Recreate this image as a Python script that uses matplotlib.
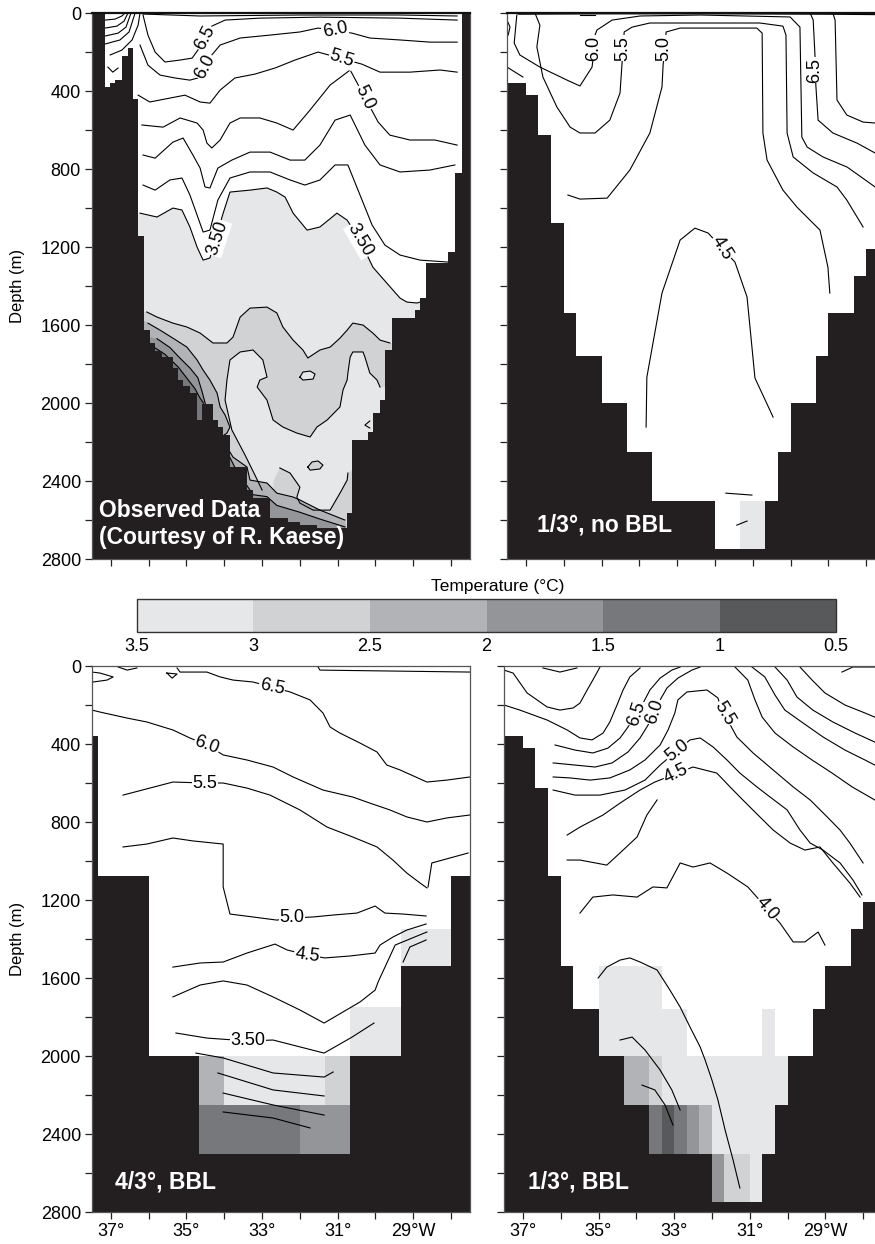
import numpy as np
import matplotlib.pyplot as plt
from matplotlib.colors import ListedColormap, BoundaryNorm
import matplotlib.colorbar as mcolorbar

plt.rcParams['font.family'] = ['Liberation Sans', 'DejaVu Sans']

# temperature bands (deg C) and their greys
levels = [0.5, 1.0, 1.5, 2.0, 2.5, 3.0, 3.5]
band_colors = ['#58595b', '#77787b', '#939598', '#b1b3b6', '#d1d2d4', '#e6e7e8']
LAND = '#231f20'
nan = np.nan

# ---------------- bathymetry (deg W edges, depth of sea floor in m) ----------------
obs_edges = [37.5, 37.16, 37.02, 36.89, 36.71, 36.55, 36.42, 36.28, 36.12, 35.97, 35.83,
             35.65, 35.36, 35.22, 35.09, 34.91, 34.72, 34.59, 34.30, 34.17, 34.03, 33.85,
             33.40, 33.24, 32.79, 32.31, 32.00, 31.55, 30.75, 30.62, 30.20, 30.07, 29.88,
             29.75, 29.56, 28.95, 28.82, 28.66, 28.08, 27.90, 27.71, 27.5]
obs_bottom = [0, 380, 360, 345, 220, 180, 440, 1145, 1625, 1690, 1732, 1762, 1821, 1882,
              1913, 1950, 2087, 2005, 2087, 2121, 2164, 2326, 2446, 2487, 2590, 2609, 2625,
              2641, 2564, 2190, 2147, 2050, 1985, 1728, 1564, 1523, 1462, 1283, 1224, 822, 0]

third_edges = [37.5, 37.0, 36.67, 36.33, 36.0, 35.67, 35.0, 34.33, 33.67, 32.0, 30.67,
               30.33, 30.0, 29.33, 29.0, 28.33, 28.0, 27.5]
third_bottom = [360, 420, 625, 1075, 1540, 1760, 2000, 2250, 2500, 2750, 2500, 2250,
                2000, 1760, 1540, 1350, 1210]

four_edges = [37.5, 37.33, 36.0, 34.67, 30.67, 29.33, 28.0, 27.5]
four_bottom = [360, 1075, 2000, 2500, 2000, 1540, 1075]

# ---------------- observed section (Kaese) ----------------
obs_surf = [(36.15, 5), (34.64, 15), (32.0, 10), (29.35, 10), (27.84, 15)]
obs_arc1 = [(37.16, 36), (36.89, 31), (36.71, 15), (36.63, 0)]
obs_arc2 = [(37.16, 77), (36.84, 67), (36.65, 41), (36.55, 0)]
obs_arc3 = [(37.16, 118), (36.81, 103), (36.60, 72), (36.47, 0)]
obs_arc4 = [(37.16, 159), (36.76, 138), (36.52, 97), (36.36, 0)]
obs_arc5 = [(37.02, 215), (36.71, 190), (36.44, 138), (36.28, 62), (36.23, 0)]
obs_vmark = [(37.08, 277), (36.95, 303), (36.81, 282)]
obs_t65 = [(36.15, 10), (36.02, 113), (35.83, 200), (35.57, 251), (35.17, 241), (34.85, 231),
           (34.70, 190), (34.33, 67), (33.98, 36), (33.06, 26), (31.47, 21), (29.35, 26),
           (27.84, 36)]
obs_t60 = [(36.23, 164), (36.02, 267), (35.70, 318), (35.30, 333), (34.91, 344), (34.70, 333),
           (34.33, 215), (34.11, 164), (33.58, 128), (32.79, 113), (32.00, 97), (31.52, 77),
           (30.62, 103), (30.15, 128), (29.35, 138), (28.56, 149), (27.84, 149)]
obs_t55 = [(36.28, 421), (35.97, 456), (35.44, 436), (35.04, 421), (34.64, 456), (34.38, 462),
           (34.11, 395), (33.72, 333), (33.19, 313), (32.66, 282), (32.13, 241), (31.52, 200),
           (30.36, 262), (29.88, 303), (29.09, 303), (28.29, 292), (27.84, 303)]
obs_t50 = [(36.18, 574), (35.62, 585), (35.17, 538), (34.72, 564), (34.56, 600), (34.46, 667),
           (34.33, 692), (34.11, 651), (33.85, 564), (33.58, 538), (33.06, 538), (32.61, 564),
           (32.18, 600), (31.73, 497), (31.20, 369), (30.67, 292), (29.93, 559), (29.62, 626),
           (29.09, 651), (28.43, 651), (27.84, 677)]
obs_t45 = [(36.15, 728), (35.83, 744), (35.36, 662), (35.09, 641), (34.83, 728), (34.64, 795),
           (34.51, 892), (34.38, 897), (34.17, 795), (33.80, 754), (33.32, 713), (32.79, 713),
           (32.26, 754), (31.87, 754), (31.47, 677), (31.07, 549), (30.67, 523), (30.28, 677),
           (29.88, 779), (29.35, 815), (28.56, 805), (27.90, 779)]
obs_t40 = [(36.15, 882), (35.83, 908), (35.44, 856), (35.12, 846), (34.91, 933), (34.72, 1036),
           (34.56, 1123), (34.38, 1113), (34.17, 959), (33.85, 846), (33.32, 815), (32.79, 815),
           (32.26, 856), (31.87, 882), (31.47, 856), (31.07, 779), (30.73, 779), (30.41, 933),
           (30.09, 1087), (29.75, 1190), (29.35, 1241), (28.82, 1267), (28.08, 1277)]
obs_t35 = [(36.23, 1026), (35.78, 1046), (35.36, 1000), (35.12, 1010), (34.91, 1097),
           (34.72, 1200), (34.56, 1267), (34.38, 1256), (34.03, 1026), (33.85, 918),
           (33.32, 908), (32.87, 897), (32.61, 918), (32.39, 944), (32.18, 1026), (31.81, 1113),
           (31.47, 1097), (31.02, 1026), (30.75, 1062), (30.41, 1164), (30.07, 1303),
           (29.70, 1385), (29.35, 1462), (29.17, 1482), (28.90, 1487), (28.66, 1472)]
obs_t30_upper = [(36.05, 1533), (35.78, 1559), (35.36, 1590), (34.99, 1610), (34.64, 1641),
                 (34.30, 1692), (33.93, 1692), (33.77, 1662), (33.58, 1559), (33.32, 1513),
                 (32.87, 1508), (32.61, 1538), (32.45, 1610), (32.18, 1677), (31.92, 1728),
                 (31.79, 1769), (31.47, 1728), (31.20, 1713), (30.94, 1667), (30.75, 1626),
                 (30.60, 1590), (30.33, 1600), (30.07, 1641), (29.88, 1677), (29.62, 1692)]
obs_t30_lower = [(29.88, 1918), (29.96, 1882), (30.15, 1846), (30.28, 1764), (30.33, 1738),
                 (30.60, 1738), (30.67, 1764), (30.73, 1846), (30.75, 1882), (30.86, 1933),
                 (30.94, 2020), (31.28, 2087), (31.55, 2123), (31.73, 2174), (32.08, 2154),
                 (32.45, 2123), (32.71, 2087), (32.87, 1985), (33.13, 1918), (33.06, 1882),
                 (32.87, 1867), (32.98, 1779), (33.24, 1728), (33.58, 1738), (33.85, 1779),
                 (33.93, 1882), (33.98, 1985), (33.80, 2138), (33.45, 2267), (33.19, 2369),
                 (33.00, 2446)]
obs_t30_bottom = [(32.53, 2333), (32.26, 2359), (32.00, 2431), (32.08, 2482), (32.00, 2513),
                  (31.65, 2549), (31.20, 2549), (30.94, 2462), (30.75, 2395), (30.73, 2359)]
obs_t25 = [(36.02, 1590), (35.70, 1626), (35.36, 1667), (34.99, 1713), (34.72, 1779),
           (34.56, 1831), (34.38, 1882), (34.19, 1949), (34.11, 2020), (33.98, 2061),
           (33.85, 2123), (33.93, 2154), (34.19, 2190), (33.93, 2226), (33.77, 2277),
           (33.40, 2328), (33.32, 2395), (32.87, 2410), (32.61, 2462), (32.18, 2482),
           (32.00, 2497), (31.47, 2549), (30.81, 2600)]
obs_t20 = [(35.78, 1670), (35.44, 1715), (35.17, 1770), (34.91, 1820), (34.70, 1870),
           (34.59, 1940), (34.48, 2020), (34.33, 2100), (34.11, 2180), (33.72, 2330),
           (33.24, 2470), (32.87, 2480), (32.61, 2525), (32.26, 2545), (32.00, 2560),
           (31.47, 2595), (30.81, 2635)]
obs_t15 = [(35.97, 1700), (35.57, 1750), (35.22, 1815), (34.96, 1880), (34.78, 1925),
           (34.64, 1975), (34.55, 2000)]
obs_blob1 = [(32.00, 1867), (31.92, 1841), (31.73, 1836), (31.60, 1851), (31.65, 1877),
             (31.92, 1882), (32.00, 1867)]
obs_blob2 = [(31.79, 2328), (31.68, 2302), (31.52, 2297), (31.39, 2318), (31.47, 2338),
             (31.73, 2344), (31.79, 2328)]
obs_mark = [(30.15, 2092), (30.28, 2113), (30.15, 2128)]
obs_labels = [('6.5', 34.51, 128, 62), ('6.0', 34.51, 275, 62), ('6.0', 31.07, 88, 12),
              ('5.5', 30.89, 232, -18), ('5.0', 30.28, 433, -65), ('3.50', 34.17, 1154, 72),
              ('3.50', 30.41, 1164, -60)]

# ---------------- 1/3 deg, no BBL ----------------
tr_surf = [(37.2, 6), (35.0, 4), (32.0, 4), (29.0, 6), (27.76, 8)]
tr_t70 = [(28.88, 0), (28.82, 36), (28.77, 446), (28.51, 523), (28.08, 559), (27.76, 564)]
tr_t65 = [(29.48, 0), (29.40, 36), (29.35, 226), (29.33, 369), (29.27, 549), (28.88, 615),
          (28.24, 667), (27.76, 718)]
tr_t60 = [(37.24, 10), (37.31, 154), (37.16, 215), (36.63, 277), (35.91, 344), (35.57, 374),
          (35.25, 277), (35.22, 231), (35.20, 128), (35.12, 87), (34.72, 36), (33.98, 15),
          (32.39, 10), (30.01, 20), (29.75, 72), (29.70, 636), (29.56, 687), (29.14, 738),
          (28.50, 790), (27.76, 892)]
tr_t55 = [(36.76, 0), (36.63, 62), (36.71, 174), (36.55, 328), (36.18, 482), (35.83, 585),
          (35.57, 615), (35.17, 615), (34.78, 549), (34.51, 410), (34.46, 267), (34.40, 97),
          (34.19, 72), (33.72, 51), (30.81, 51), (30.20, 67), (30.12, 113), (30.09, 615),
          (29.93, 738), (29.40, 820), (28.77, 892), (28.51, 959), (28.08, 1097)]
tr_t50 = [(35.89, 933), (35.57, 954), (34.85, 949), (34.25, 805), (33.72, 615), (33.40, 379),
          (33.37, 267), (33.29, 97), (32.92, 77), (30.89, 77), (30.75, 103), (30.73, 615),
          (30.62, 754), (30.20, 908), (29.83, 995), (29.22, 1113), (29.01, 1303), (28.96, 1436)]
tr_t45 = [(33.82, 2123), (33.80, 1867), (33.40, 1436), (32.92, 1164), (32.53, 1103),
          (32.18, 1128), (31.47, 1277), (31.15, 1456), (30.94, 1872), (30.46, 2072)]
tr_bit1 = [(31.71, 2462), (31.02, 2472)]
tr_bit2 = [(31.42, 2626), (31.15, 2605)]
tr_bit3 = [(37.5, 36), (37.42, 72), (37.47, 113)]
tr_bit4 = [(37.5, 277), (37.08, 328)]
tr_bit5 = [(35.57, 10), (35.17, 10)]
tr_labels = [('6.0', 35.22, 180, 90), ('5.5', 34.43, 180, 90), ('5.0', 33.35, 180, 90),
             ('6.5', 29.35, 292, 90), ('4.5', 31.81, 1205, -58)]

# model cells on the 1/3 deg grid (mean temperature of the cell, nan = above 3.5)
third_cell_lon = [35.0, 34.67, 34.33, 34.0, 33.67, 33.33, 33.0, 32.67, 32.33, 32.0, 31.67,
                  31.33, 31.0, 30.67, 30.33, 30.0]
third_cell_depth = [1540, 1760, 2000, 2250, 2500, 2750]
tr_cells = [
    [nan] * 15,
    [nan] * 15,
    [nan] * 15,
    [nan] * 15,
    [nan] * 11 + [3.25, 3.25, nan, nan],
]

# ---------------- 4/3 deg, BBL ----------------
bl_s1 = [(37.5, 31), (37.29, 36), (36.94, 56), (37.10, 72), (37.47, 82)]
bl_s2 = [(36.81, 5), (36.57, 21), (36.31, 10)]
bl_s3 = [(35.52, 36), (35.38, 62), (35.25, 41), (35.52, 36)]
bl_s4 = [(31.52, 5), (31.47, 21), (27.5, 31)]
bl_t65 = [(35.25, 10), (35.17, 31), (34.46, 31), (34.11, 56), (33.77, 72), (33.24, 82),
          (32.74, 108), (32.26, 133), (31.73, 174), (31.39, 241), (31.20, 313), (30.94, 344),
          (30.41, 395), (29.96, 441), (29.70, 508), (29.35, 533), (28.64, 595), (28.11, 585),
          (27.50, 569)]
bl_t60 = [(37.50, 226), (37.29, 236), (36.57, 267), (36.05, 287), (35.36, 328), (34.91, 369),
          (34.46, 405), (34.03, 456), (33.40, 482), (32.71, 518), (32.18, 569), (31.39, 636),
          (30.60, 672), (30.15, 703), (29.62, 738), (29.17, 774), (28.64, 800), (28.11, 779),
          (27.50, 764)]
bl_t55 = [(36.68, 662), (35.97, 626), (35.36, 595), (34.51, 600), (34.03, 600), (33.40, 626),
          (32.79, 662), (32.00, 738), (31.28, 826), (30.60, 877), (29.96, 928), (29.54, 995),
          (29.17, 1062), (28.82, 1113), (28.64, 1138)]
bl_t50 = [(36.68, 928), (36.05, 913), (35.36, 882), (34.83, 897), (34.03, 913), (34.03, 1133),
          (33.85, 1272), (33.24, 1287), (32.61, 1303), (32.21, 1292), (31.65, 1287),
          (31.12, 1277), (30.49, 1267), (30.01, 1231), (29.75, 1267), (29.27, 1272),
          (28.66, 1282)]
bl_t50b = [(28.61, 1133), (28.51, 1010), (27.55, 959)]
bl_t45 = [(35.36, 1544), (34.64, 1523), (34.03, 1518), (33.40, 1472), (32.66, 1426),
          (32.34, 1456), (31.81, 1482), (31.34, 1497), (30.67, 1487), (30.01, 1472),
          (29.88, 1431), (29.54, 1390), (29.17, 1354), (28.66, 1323)]
bl_t40 = [(35.36, 1697), (34.64, 1636), (34.03, 1615), (33.40, 1636), (32.71, 1697),
          (32.00, 1764), (31.36, 1831), (30.41, 1723), (30.01, 1662), (29.93, 1620),
          (29.48, 1431), (28.64, 1364)]
bl_t40b = [(29.27, 1518), (29.09, 1441), (28.66, 1405)]
bl_t35 = [(35.28, 1882), (34.46, 1908), (33.37, 1923), (32.71, 1918), (31.36, 1985),
          (30.62, 1903), (30.04, 1831)]
bl_d1 = [(34.75, 1985), (34.03, 2010), (32.71, 2087), (31.36, 2108), (31.12, 2082)]
bl_d2 = [(34.17, 2087), (32.71, 2174), (31.36, 2205)]
bl_d3 = [(34.03, 2190), (32.71, 2251), (31.36, 2303)]
bl_d4 = [(34.03, 2287), (32.71, 2318), (31.73, 2369)]
bl_labels = [('6.5', 32.74, 108, -12), ('6.0', 34.46, 405, -20), ('5.5', 34.51, 600, 0),
             ('5.0', 32.21, 1292, 0), ('4.5', 31.81, 1482, -8), ('3.50', 33.37, 1923, 0)]
four_cell_lon = [34.67, 34.0, 32.67, 32.0, 31.33, 30.67, 29.33, 28.0]
four_cell_depth = [1350, 1540, 1750, 2000, 2250, 2500]
bl_cells = [
    [nan] * 6 + [3.25],
    [nan] * 7,
    [nan] * 5 + [3.25, nan],
    [2.25, 3.25, 3.25, 3.25, 2.75, nan, nan],
    [1.25, 1.25, 1.25, 1.75, 1.75, nan, nan],
]

# ---------------- 1/3 deg, BBL ----------------
br_s1 = [(36.47, 10), (36.02, 31), (35.57, 10)]
br_s2 = [(28.56, 31), (28.27, 5), (27.69, 5)]
br_t75 = [(37.5, 21), (37.26, 36), (36.89, 138), (36.36, 210), (36.02, 226), (35.67, 215),
          (35.49, 190), (35.30, 123), (35.15, 72), (34.96, 5)]
br_t75r = [(29.67, 5), (29.35, 72), (29.01, 138), (28.48, 200), (27.95, 241), (27.69, 262)]
br_t70 = [(37.5, 200), (37.08, 226), (36.36, 277), (35.83, 328), (35.49, 369), (35.17, 379),
          (34.88, 344), (34.70, 287), (34.51, 200), (34.35, 123), (34.17, 56), (33.90, 10)]
br_t70r = [(30.33, 5), (30.01, 72), (29.75, 159), (29.33, 226), (28.80, 287), (28.21, 344),
           (27.69, 390)]
br_t65 = [(36.15, 405), (35.62, 431), (35.15, 446), (34.75, 421), (34.43, 369), (34.22, 313),
          (33.82, 190), (33.64, 123), (33.37, 62), (33.06, 21), (32.84, 5)]
br_t65r = [(30.94, 5), (30.60, 56), (30.33, 149), (30.07, 226), (29.59, 292), (29.06, 364),
           (28.48, 431), (27.95, 482), (27.69, 508)]
br_t60 = [(36.20, 497), (35.62, 508), (35.09, 518), (34.64, 497), (34.22, 441), (33.90, 369),
          (33.69, 303), (33.37, 174), (33.19, 113), (32.90, 62), (32.53, 21), (32.31, 5)]
br_t60r = [(31.39, 5), (31.05, 72), (30.86, 174), (30.67, 262), (30.33, 344), (29.85, 415),
           (29.35, 482), (28.82, 549), (28.29, 620), (27.69, 687)]
br_t55 = [(36.20, 569), (35.75, 574), (35.22, 585), (34.70, 574), (34.17, 533), (33.77, 482),
          (33.37, 405), (33.16, 328), (32.98, 241), (32.90, 174), (32.66, 133), (32.13, 123),
          (31.84, 164), (31.76, 215), (31.34, 364), (30.91, 446), (30.38, 533), (29.85, 620),
          (29.40, 687), (28.95, 774), (28.61, 841), (28.35, 908), (28.00, 1010)]
br_t50 = [(36.20, 636), (35.62, 662), (34.96, 662), (34.30, 636), (33.77, 585), (33.37, 508),
          (32.58, 379), (32.31, 369), (31.97, 415), (31.60, 482), (31.26, 549), (30.81, 620),
          (30.46, 672), (30.01, 738), (29.67, 841), (29.40, 908), (29.06, 944), (28.61, 1010),
          (28.27, 1097), (28.03, 1174)]
br_t45 = [(35.83, 867), (35.49, 826), (34.88, 764), (34.43, 703), (33.90, 636), (33.51, 595),
          (32.50, 518), (31.87, 549), (31.52, 620), (31.18, 687), (30.73, 774), (30.38, 841),
          (29.93, 908), (29.54, 944), (29.14, 928), (28.80, 1010), (28.35, 1113), (28.08, 1185)]
br_t425 = [(35.83, 995), (35.49, 995), (34.78, 1021), (34.35, 944), (33.98, 877), (33.72, 764),
           (33.45, 687)]
br_t40 = [(35.49, 1267), (35.15, 1185), (34.62, 1174), (33.98, 1185), (33.56, 1133),
          (33.19, 1138), (32.84, 1010), (32.50, 1031), (32.05, 1010), (31.60, 1062),
          (31.05, 1133), (30.20, 1318), (29.85, 1415), (29.54, 1415), (29.19, 1364),
          (29.01, 1431)]
br_t35 = [(35.01, 1600), (34.78, 1544), (34.43, 1508), (34.17, 1497), (33.90, 1518),
          (33.45, 1559), (33.11, 1662), (32.84, 1749), (32.58, 1851), (32.31, 1954),
          (32.18, 2020), (32.00, 2123), (31.84, 2226), (31.65, 2380), (31.44, 2533),
          (31.26, 2677)]
br_d1 = [(34.43, 1918), (34.11, 1903), (33.77, 1969), (33.37, 2072), (33.06, 2174), (32.84, 2277)]
br_d2 = [(33.85, 2149), (33.51, 2174), (33.24, 2251), (33.03, 2354)]
br_labels = [('6.5', 33.98, 245, 72), ('6.0', 33.51, 236, 72), ('5.5', 31.68, 245, -60),
             ('5.0', 32.92, 436, 38), ('4.5', 32.95, 552, 25), ('4.0', 30.54, 1244, -50)]
br_cells = [
    [3.25] * 5 + [nan] * 10,
    [3.25] * 7 + [nan] * 6 + [3.25, nan],
    [nan, nan, 2.25, 2.25, 2.75] + [3.25] * 10,
    [nan] * 4 + [1.25, 0.75, 1.25, 1.75, 2.25] + [3.25] * 6,
    [nan] * 9 + [1.75, 2.75, 2.75, 3.25] + [nan] * 2,
]

lon_ticks = [37, 36, 35, 34, 33, 32, 31, 30, 29, 28]
lon_ticklabels = ['37°', '', '35°', '', '33°', '', '31°', '', '29°W', '']
depth_ticks = list(range(0, 2801, 200))

cmap = ListedColormap(band_colors)
norm = BoundaryNorm(levels, cmap.N)


def band_color(t):
    return cmap(norm(t))


def xy(pts):
    a = np.array(pts, dtype=float)
    return a[:, 0], a[:, 1]


def draw_lines(ax, lines):
    for pts in lines:
        x, y = xy(pts)
        ax.plot(x, y, color='black', lw=0.8, zorder=2, solid_joinstyle='round')


def fill_band(ax, pts, t):
    x, y = xy(pts)
    ax.fill(x, y, color=band_color(t), lw=0, zorder=1)


def draw_cells(ax, lon_edges, dep_edges, cells):
    ax.pcolormesh(lon_edges, dep_edges, np.ma.masked_invalid(np.array(cells)),
                  cmap=cmap, norm=norm, zorder=1)


def draw_bottom(ax, edges, bottom):
    xs = np.repeat(edges, 2)[1:-1]
    ys = np.repeat(bottom, 2)
    ax.fill_between(xs, ys, 2900, color=LAND, lw=0, zorder=3)


def put_labels(ax, labels):
    for txt, lon, dep, rot in labels:
        ax.text(lon, dep, txt, rotation=rot, ha='center', va='center', fontsize=13,
                rotation_mode='anchor', zorder=4,
                bbox=dict(fc='white', ec='none', pad=0.5))


def setup(ax, left_labels, bottom_labels, top_dark):
    ax.set_xlim(37.5, 27.5)
    ax.set_ylim(2800, 0)
    ax.set_xticks(lon_ticks)
    ax.set_yticks(depth_ticks)
    if bottom_labels:
        ax.set_xticklabels(lon_ticklabels)
    else:
        ax.set_xticklabels([])
    if left_labels:
        ax.set_yticklabels([str(d) if d % 400 == 0 else '' for d in depth_ticks])
        ax.set_ylabel('Depth (m)', fontsize=12)
        ax.yaxis.set_label_coords(-0.178, 0.5)
    else:
        ax.set_yticklabels([])
    ax.tick_params(direction='out', length=5, width=0.9, labelsize=13, pad=3,
                   color='#222222')
    for s in ax.spines.values():
        s.set_color('#555555')
        s.set_linewidth(0.9)
        s.set_zorder(6)
    if top_dark:
        ax.spines['top'].set_color('#111111')
        ax.spines['top'].set_linewidth(1.6)


def panel_title(ax, text, x, y):
    ax.text(x, y, text, transform=ax.transAxes, color='white', fontsize=16.5,
            fontweight='bold', ha='left', va='center', linespacing=1.2, zorder=7)


fig = plt.figure(figsize=(8.75, 12.44), dpi=100)
ax_tl = fig.add_axes([0.10514, 0.5506, 0.432, 0.4389])
ax_tr = fig.add_axes([0.57943, 0.5506, 0.432, 0.4389])
ax_bl = fig.add_axes([0.10514, 0.02572, 0.432, 0.4389])
ax_br = fig.add_axes([0.57600, 0.02572, 0.432, 0.4389])

# observed
ax = ax_tl
fill_band(ax, [(36.35, 1026)] + obs_t35 + [(28.66, 2800), (36.35, 2800)], 3.25)
fill_band(ax, [(36.23, 1533)] + obs_t30_upper + [(29.41, 1700), (29.41, 1923)]
          + obs_t30_lower + [(33.32, 2651), (36.23, 2651)], 2.75)
fill_band(ax, [(32.70, 2400)] + obs_t30_bottom + [(30.62, 2344), (30.62, 2700), (32.70, 2700)], 2.75)
fill_band(ax, obs_blob1, 3.25)
fill_band(ax, obs_blob2, 2.75)
fill_band(ax, [(36.23, 1564)] + obs_t25 + [(30.67, 2728), (36.23, 2728)], 2.25)
fill_band(ax, [(36.23, 1651)] + obs_t20 + [(30.81, 2728), (36.23, 2728)], 1.75)
fill_band(ax, [(36.05, 1700)] + obs_t15 + [(34.51, 2190), (36.05, 2190)], 1.25)
draw_lines(ax, [obs_surf, obs_arc1, obs_arc2, obs_arc3, obs_arc4, obs_arc5, obs_vmark,
                obs_t65, obs_t60, obs_t55, obs_t50, obs_t45, obs_t40, obs_t35,
                obs_t30_upper, obs_t30_lower, obs_t30_bottom, obs_t25, obs_t20, obs_t15,
                obs_blob1, obs_blob2, obs_mark])
draw_bottom(ax, obs_edges, obs_bottom)
put_labels(ax, obs_labels)
setup(ax, True, False, True)
panel_title(ax, 'Observed Data\n(Courtesy of R. Kaese)', 0.0185, 0.064)

# 1/3 no BBL
ax = ax_tr
draw_cells(ax, third_cell_lon, third_cell_depth, tr_cells)
draw_lines(ax, [tr_surf, tr_t70, tr_t65, tr_t60, tr_t55, tr_t50, tr_t45,
                tr_bit1, tr_bit2, tr_bit3, tr_bit4, tr_bit5])
draw_bottom(ax, third_edges, third_bottom)
put_labels(ax, tr_labels)
setup(ax, False, False, True)
panel_title(ax, '1/3°, no BBL', 0.079, 0.062)

# 4/3 BBL
ax = ax_bl
draw_cells(ax, four_cell_lon, four_cell_depth, bl_cells)
draw_lines(ax, [bl_s1, bl_s2, bl_s3, bl_s4, bl_t65, bl_t60, bl_t55, bl_t50, bl_t50b,
                bl_t45, bl_t40, bl_t40b, bl_t35, bl_d1, bl_d2, bl_d3, bl_d4])
draw_bottom(ax, four_edges, four_bottom)
put_labels(ax, bl_labels)
setup(ax, True, True, False)
panel_title(ax, '4/3°, BBL', 0.061, 0.055)

# 1/3 BBL
ax = ax_br
draw_cells(ax, third_cell_lon, third_cell_depth, br_cells)
draw_lines(ax, [br_s1, br_s2, br_t75, br_t75r, br_t70, br_t70r, br_t65, br_t65r, br_t60,
                br_t60r, br_t55, br_t50, br_t45, br_t425, br_t40, br_t35, br_d1, br_d2])
draw_bottom(ax, third_edges, third_bottom)
put_labels(ax, br_labels)
setup(ax, False, True, False)
panel_title(ax, '1/3°, BBL', 0.063, 0.055)

# colour bar (3.5 on the left)
cax = fig.add_axes([0.15657, 0.49196, 0.79886, 0.02653])
cb = mcolorbar.ColorbarBase(cax, cmap=cmap, norm=norm, orientation='horizontal',
                            drawedges=True, ticks=levels)
cax.invert_xaxis()
cb.set_ticklabels(['0.5', '1', '1.5', '2', '2.5', '3', '3.5'])
cax.tick_params(length=0, labelsize=13, pad=4)
cb.outline.set_linewidth(1.0)
cb.outline.set_edgecolor('#333333')
cb.dividers.set_linewidth(1.0)
cb.dividers.set_color('#222222')
fig.text(0.569, 0.5285, 'Temperature (°C)', ha='center', va='center', fontsize=12.5)

fig.savefig('out.png', dpi=100)
